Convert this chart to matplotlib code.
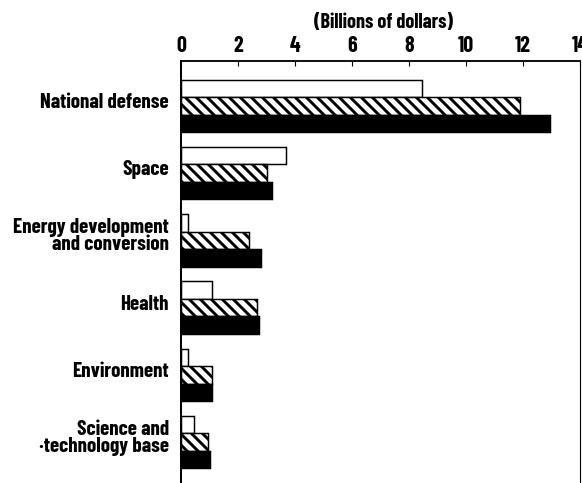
import matplotlib.pyplot as plt
import numpy as np

# federal R&D by function (billions of dollars), three years per category
categories = ["National defense", "Space", "Energy development\nand conversion",
              "Health", "Environment", "Science and\n\u00b7technology base"]
year_a = [8.45, 3.7, 0.26, 1.1, 0.26, 0.44]     # open bars
year_b = [11.9, 3.03, 2.4, 2.65, 1.1, 0.93]     # hatched bars
year_c = [12.93, 3.2, 2.82, 2.72, 1.1, 1.03]    # solid bars
xticks = [0, 2, 4, 6, 8, 10, 12, 14]

DPI = 66
plt.rcParams['hatch.linewidth'] = 3.2
plt.rcParams['font.family'] = ['Barlow Condensed', 'DejaVu Sans']
plt.rcParams['font.weight'] = 'bold'

fig = plt.figure(figsize=(582 / DPI, 483 / DPI), dpi=DPI)
ax = fig.add_axes([181 / 582, 0.0, 399 / 582, 422 / 483])

pos = np.arange(len(categories))
h = 0.26
ax.barh(pos - h, year_a, height=h, color='white', edgecolor='black', linewidth=1.6)
ax.barh(pos, year_b, height=h, color='white', edgecolor='black', linewidth=1.6, hatch='\\\\')
ax.barh(pos + h, year_c, height=h, color='black', edgecolor='black', linewidth=1.6)

ax.set_xlim(0, 14)
ax.set_ylim(5.61, -0.67)

ax.xaxis.tick_top()
ax.set_xticks(xticks)
ax.set_xticklabels([str(t) for t in xticks], fontsize=24)
ax.tick_params(axis='x', direction='in', length=5, width=1.2, pad=5)

ax.set_yticks(pos - 0.08)
ax.set_yticklabels(categories, fontsize=23, linespacing=0.88)
ax.tick_params(axis='y', length=0, pad=13)

ax.spines['top'].set_linewidth(2)
ax.spines['left'].set_linewidth(2.2)
ax.spines['right'].set_linewidth(1.2)
ax.spines['bottom'].set_visible(False)

fig.text(384 / 582, 1 - 23 / 483, "(Billions of dollars)", ha='center', va='center',
         fontsize=22)

fig.savefig("out.png", dpi=DPI)
